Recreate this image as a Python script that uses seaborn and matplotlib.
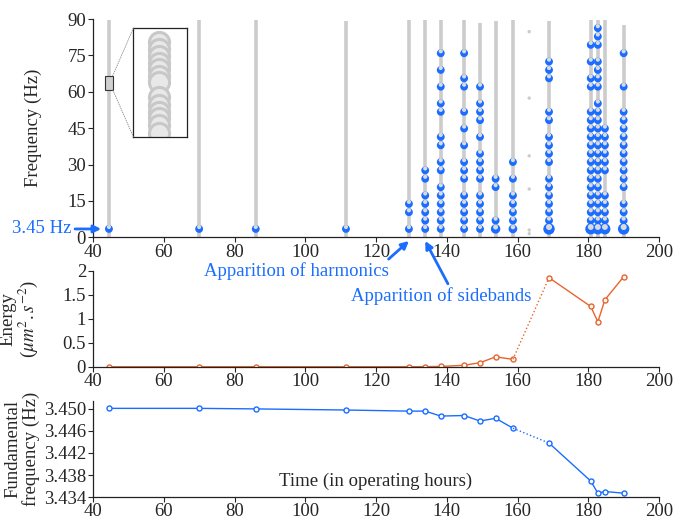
import numpy as np
import pandas as pd
import seaborn as sns
import matplotlib.pyplot as plt
from matplotlib.patches import Rectangle, ConnectionPatch

# measurement times (operating hours)
hours = [44.5, 70.0, 86.0, 111.5, 129.3, 133.9, 138.3, 144.9, 149.4,
         153.8, 158.7, 168.9, 180.7, 182.7, 184.7, 190.0]

# top of the grey column of detected peaks (Hz)
col_top = [89.5, 89.5, 89.5, 89.0, 89.5, 89.5, 89.5, 89.5, 88.5,
           89.0, 89.5, 89.0, 89.5, 89.5, 89.5, 87.5]

# isolated peaks of the measurement at ~163 h
sparse_hour = 163.3
sparse_freq = [84.8, 57.4, 33.6, 19.9, 3.0, 1.5]

# harmonic orders of 3.45 Hz detected at each time
fundamental = 3.45
harm_orders = [
    [1], [1], [1], [1],
    [1, 3, 4],
    [1, 2, 3, 4, 5, 7, 8],
    [1, 2, 3, 4, 5, 6, 8, 9, 11, 12, 15, 16, 18, 20, 22],
    [1, 2, 3, 4, 5, 7, 8, 9, 11, 13, 15, 18, 19, 22],
    [1, 2, 3, 4, 5, 7, 8, 9, 10, 12, 14, 15, 16, 18],
    [1, 2, 6, 7],
    [1, 2, 3, 4, 5, 7, 9],
    [1, 2, 3, 4, 5, 6, 7, 9, 10, 11, 12, 14, 15, 19, 20, 21],
    [1, 2, 3, 4, 5, 6, 7, 8, 9, 10, 11, 12, 13, 14, 15, 18, 19, 21, 23],
    [1, 2, 3, 4, 5, 6, 7, 8, 9, 10, 11, 12, 13, 14, 15, 16, 18, 19, 20, 21, 23, 24, 25],
    [1, 2, 3, 4, 5, 8, 9, 10, 11, 12, 13],
    [1, 2, 3, 4, 6, 7, 8, 9, 10, 11, 12, 13, 14, 15, 18, 22],
]
# relative marker size of the fundamental
fund_scale = [1, 1, 1, 1, 1, 1, 1, 1, 1, 1.2, 1.1, 1.45, 1.4, 1.4, 1.4, 1.45]

# peaks seen in the zoomed box (44.5 h, around 61-67 Hz)
inset_freq = [65.89, 65.48, 65.13, 64.77, 64.42, 64.07, 63.77,
              62.94, 62.53, 62.18, 61.83, 61.47, 61.06]

energy = [0.005, 0.005, 0.006, 0.005, 0.006, 0.007, 0.012, 0.035, 0.09,
          0.21, 0.16, 1.86, 1.26, 0.94, 1.40, 1.88]

fund_freq = [3.4501, 3.4501, 3.4500, 3.4498, 3.4496, 3.4496, 3.4487, 3.4488,
             3.4478, 3.4483, 3.4465, 3.4438, 3.4369, 3.4347, 3.4350, 3.4347]

BLUE = '#1a6dff'
ORANGE = '#e8642c'
GREY = '#cccccc'

sns.set_style('ticks')
plt.rcParams['font.family'] = ['Liberation Serif', 'DejaVu Serif']
plt.rcParams['mathtext.fontset'] = 'stix'
plt.rcParams['font.size'] = 13.5
plt.rcParams['axes.edgecolor'] = '#222222'
plt.rcParams['axes.linewidth'] = 0.9
plt.rcParams['xtick.major.size'] = 3.5
plt.rcParams['ytick.major.size'] = 3.5
plt.rcParams['xtick.major.pad'] = 1
plt.rcParams['ytick.major.pad'] = 1.5

fig = plt.figure(figsize=(6.74, 5.21), dpi=100)
ax1 = fig.add_axes([0.138, 0.5445, 0.8398, 0.419])
ax2 = fig.add_axes([0.138, 0.2956, 0.8398, 0.1843])
ax3 = fig.add_axes([0.138, 0.0460, 0.8398, 0.1850])
ax2.patch.set_alpha(0)
ax3.patch.set_alpha(0)

# ---- spectrum peaks ----
ax1.vlines(hours, 0, col_top, colors=GREY, lw=2.6, zorder=1)
sns.scatterplot(x=[sparse_hour] * len(sparse_freq), y=sparse_freq, ax=ax1,
                color=GREY, s=6, edgecolor='none', zorder=1)

rows = []
for h, orders, fs in zip(hours, harm_orders, fund_scale):
    for k in orders:
        rows.append((h, k * fundamental, fs if k == 1 else 1.0))
harm = pd.DataFrame(rows, columns=['hour', 'freq', 'scale'])
sns.scatterplot(data=harm, x='hour', y='freq', ax=ax1, color=BLUE,
                s=32 * harm['scale'] ** 2, edgecolor='none', linewidth=0, zorder=2)
# lighter cap on each marker
sns.scatterplot(x=harm['hour'], y=harm['freq'] + 0.8, ax=ax1, color='#dadada',
                s=9 * harm['scale'] ** 2, edgecolor='none', linewidth=0, zorder=3)

ax1.set_xlim(40, 200)
ax1.set_ylim(0, 90)
ax1.set_xticks(range(40, 201, 20))
ax1.set_yticks(range(0, 91, 15))
ax1.set_xlabel('')
ax1.set_ylabel('Frequency (Hz)')
ax1.yaxis.set_label_coords(-0.09, 0.5)

# zoom box
x0, x1, y0, y1 = 43.5, 45.57, 60.85, 66.6
ax1.add_patch(Rectangle((x0, y0), x1 - x0, y1 - y0, fc='#d0d0d0',
                        ec='#333333', lw=0.8, zorder=4))
axins = ax1.inset_axes([0.0712, 0.4608, 0.0943, 0.4966])
sns.scatterplot(x=[44.5] * len(inset_freq), y=inset_freq, ax=axins,
                color='#e8e8e8', edgecolor='#c8c8c8', linewidth=2.2, s=210)
axins.set_xlim(x0, x1)
axins.set_ylim(y0, y1)
axins.set_xticks([])
axins.set_yticks([])
axins.set_xlabel('')
axins.set_ylabel('')
for sp in axins.spines.values():
    sp.set_color('#222222')
    sp.set_linewidth(0.9)
for ya, yb in [(y1, 1), (y0, 0)]:
    con = ConnectionPatch(xyA=(x1, ya), coordsA=ax1.transData,
                          xyB=(0, yb), coordsB=axins.transAxes,
                          color='#888888', lw=0.6, ls=':')
    fig.add_artist(con)

arrow = dict(arrowstyle='-|>', color=BLUE, lw=2, mutation_scale=11,
             shrinkA=0, shrinkB=0)
ax1.annotate('3.45 Hz', xy=(42.3, fundamental), xytext=(34.0, fundamental),
             ha='right', va='center', color=BLUE, annotation_clip=False,
             arrowprops=dict(arrow, relpos=(1.0, 0.5)))
ax1.annotate('Apparition of harmonics', xy=(129.3, -1.5), xytext=(97.4, -14.0),
             ha='center', va='center', color=BLUE, annotation_clip=False,
             arrowprops=dict(arrow, relpos=(0.97, 0.9)))
ax1.annotate('Apparition of sidebands', xy=(133.9, -1.5), xytext=(138.4, -24.2),
             ha='center', va='center', color=BLUE, annotation_clip=False,
             arrowprops=dict(arrow, relpos=(0.55, 0.95)))

# ---- energy ----
mk = dict(marker='o', markersize=3.6, markerfacecolor='white', markeredgewidth=1)
sns.lineplot(x=hours[:11], y=energy[:11], ax=ax2, color=ORANGE, lw=1,
             markeredgecolor=ORANGE, **mk)
sns.lineplot(x=hours[10:12], y=energy[10:12], ax=ax2, color=ORANGE, lw=1, ls=':')
sns.lineplot(x=hours[11:], y=energy[11:], ax=ax2, color=ORANGE, lw=1,
             markeredgecolor=ORANGE, **mk)
ax2.set_xlim(40, 200)
ax2.set_ylim(0, 2)
ax2.set_xticks(range(40, 201, 20))
ax2.set_yticks([0, 0.5, 1, 1.5, 2])
ax2.set_yticklabels(['0', '0.5', '1', '1.5', '2'])
ax2.set_ylabel('Energy\n($\\mu m^2.s^{-2}$)', linespacing=1.0)
ax2.yaxis.set_label_coords(-0.094, 0.5)

# ---- fundamental frequency ----
sns.lineplot(x=hours[:11], y=fund_freq[:11], ax=ax3, color=BLUE, lw=1,
             markeredgecolor=BLUE, **mk)
sns.lineplot(x=hours[10:12], y=fund_freq[10:12], ax=ax3, color=BLUE, lw=1, ls=':')
sns.lineplot(x=hours[11:], y=fund_freq[11:], ax=ax3, color=BLUE, lw=1,
             markeredgecolor=BLUE, **mk)
ax3.set_xlim(40, 200)
ax3.set_ylim(3.434, 3.4515)
ax3.set_xticks(range(40, 201, 20))
ax3.set_yticks([3.434, 3.438, 3.442, 3.446, 3.450])
ax3.set_yticklabels(['3.434', '3.438', '3.442', '3.446', '3.450'])
ax3.set_ylabel('Fundamental\nfrequency (Hz)', linespacing=1.0)
ax3.yaxis.set_label_coords(-0.094, 0.5)
ax3.set_xlabel('Time (in operating hours)')
ax3.xaxis.set_label_coords(0.5, 0.165)
ax3.xaxis.label.set_va('center')

for ax in (ax1, ax2, ax3):
    sns.despine(ax=ax)

fig.savefig('out.png', dpi=100)
